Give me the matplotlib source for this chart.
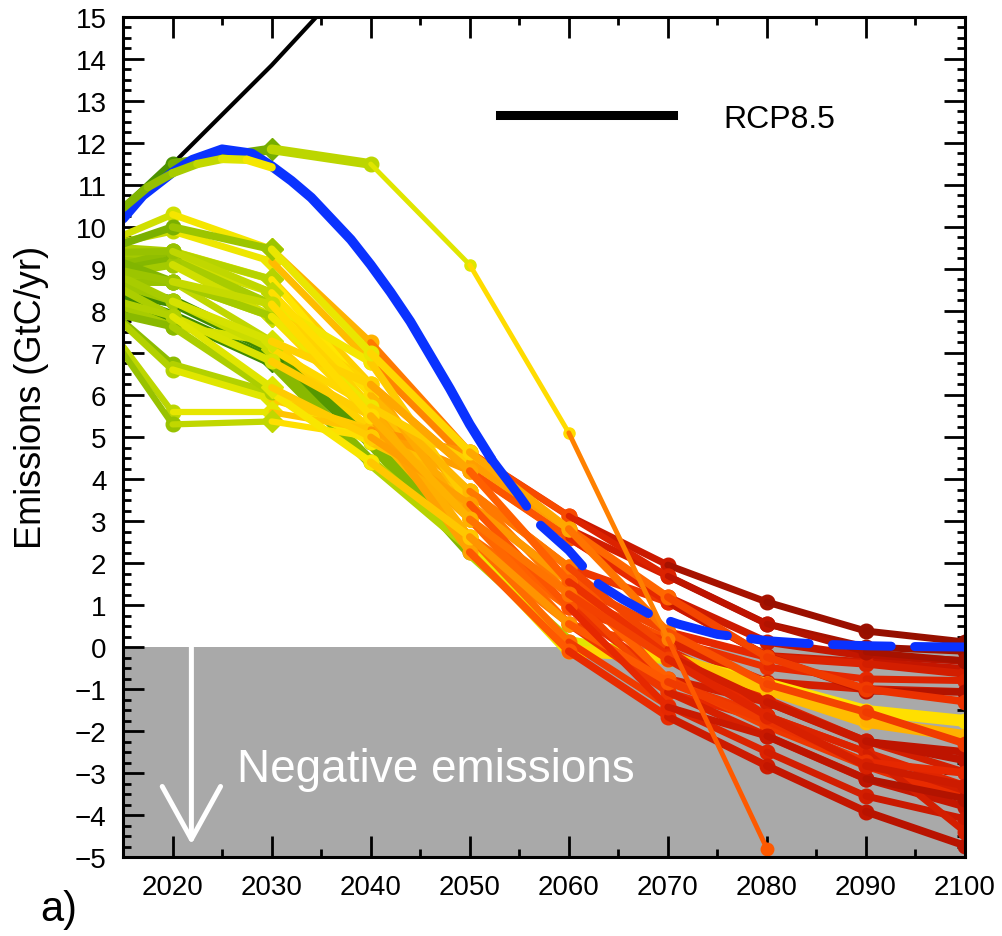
import numpy as np
import matplotlib
matplotlib.use('Agg')
import matplotlib.pyplot as plt
from matplotlib.colors import LinearSegmentedColormap
from matplotlib.lines import Line2D

plt.rcParams['font.family'] = ['Liberation Sans', 'DejaVu Sans']

#decades at which the scenario markers sit (2015 is the starting point on the axis)
years = [2015, 2020, 2030, 2040, 2050, 2060, 2070, 2080, 2090, 2100]

#emission pathways, GtC/yr, one row per scenario
pathways = [
    [9.80, 10.30, 9.47, 7.25, 4.64, 3.12, 1.95, 1.07, 0.38, 0.12],
    [9.65, 9.90, 9.18, 6.78, 4.40, 2.81, 1.69, 0.55, 0.00, -0.10],
    [9.50, 9.42, 8.75, 6.25, 4.19, 2.60, 1.19, 0.12, -0.21, -0.33],
    [9.30, 9.23, 8.44, 5.71, 3.71, 1.90, 1.07, -0.21, -0.36, -0.52],
    [9.20, 9.10, 8.16, 5.50, 3.40, 1.55, 0.36, -0.24, -0.40, -0.64],
    [9.10, 9.42, 8.75, 6.00, 3.04, 1.26, 0.19, -0.48, -0.76, -0.80],
    [8.85, 8.70, 7.87, 5.50, 2.62, 0.95, 0.12, -0.83, -1.00, -1.07],
    [8.70, 8.70, 7.28, 5.18, 2.40, 0.55, -0.05, -1.24, -2.24, -2.98],
    [8.45, 8.23, 7.09, 4.87, 2.26, 0.12, -0.29, -0.88, -1.52, -1.76],
    [8.30, 7.87, 6.80, 4.40, 2.40, -0.10, -0.21, -1.00, -1.78, -2.12],
    [8.10, 7.63, 7.28, 5.18, 3.04, 0.95, -0.76, -1.31, -2.26, -2.50],
    [7.75, 6.73, 6.06, 4.87, 3.71, 1.90, -0.83, -1.64, -2.50, -3.30],
    [7.70, 6.60, 5.90, 5.18, 4.19, 2.60, 1.07, -0.21, -1.05, -1.07],
    [7.16, 5.59, 5.59, 5.18, 4.64, 3.12, 1.69, 0.55, -0.12, -0.33],
    [7.00, 5.30, 5.37, 5.00, 3.71, 1.26, -1.07, -1.76, -2.74, -3.45],
    [9.00, 9.23, 8.16, 6.78, 3.40, 1.55, -0.76, -1.88, -2.83, -3.61],
    [8.90, 9.10, 7.87, 6.25, 3.04, 0.55, -1.07, -2.12, -3.14, -3.80],
    [8.60, 8.23, 7.09, 5.71, 2.62, 0.12, -1.40, -2.50, -3.55, -4.09],
    [8.50, 7.87, 6.80, 5.50, 2.26, -0.10, -1.66, -2.83, -3.92, -4.73],
    [9.40, 9.42, 8.44, 6.00, 3.71, 1.90, -0.05, -1.64, -2.50, -4.40],
    [9.15, 8.70, 7.87, 5.71, 4.40, 2.81, 1.19, -0.24, -1.00, -1.30],
    [8.80, 8.23, 7.28, 6.25, 4.19, 1.55, -0.21, -1.31, -2.24, -2.70],
    [7.90, 7.63, 6.06, 4.40, 2.62, 0.55, -0.83, -1.76, -2.74, -3.00],
    [8.20, 7.87, 6.18, 5.00, 3.40, 0.95, -1.43, -2.12, -3.14, -3.61],
    [9.60, 10.00, 9.47, 7.00, 4.64, 2.81, 0.36, -0.88, -1.55, -2.30],
    [8.95, 8.70, 8.16, 5.50, 3.04, 1.26, -0.29, -1.64, -2.83, -3.30],
]

#the one late, steep scenario (leaves the chart after 2080)
late_years = [2015, 2020, 2030, 2040, 2050, 2060, 2070, 2080]
late_path = [10.40, 11.50, 11.85, 11.50, 9.10, 5.10, 0.20, -4.80]

#RCP8.5 reference
rcp_years = [2015, 2020, 2030, 2040]
rcp_values = [10.30, 11.50, 13.85, 16.40]

#blue pathway, solid then dashed part
blue_years = [2015, 2017, 2020, 2022, 2025, 2028, 2030, 2032, 2034, 2036, 2038, 2040,
              2042, 2044, 2046, 2048, 2050, 2052.2]
blue_values = [10.20, 10.75, 11.30, 11.60, 11.85, 11.75, 11.45, 11.10, 10.70, 10.20, 9.70, 9.10,
               8.45, 7.75, 6.95, 6.15, 5.30, 4.47]
blue_dash_years = [2052.2, 2055, 2057, 2060, 2063, 2065.4, 2068, 2071, 2075, 2080, 2085, 2090, 2095, 2100]
blue_dash_values = [4.47, 3.60, 2.93, 2.30, 1.50, 1.14, 0.80, 0.55, 0.30, 0.15, 0.07, 0.03, 0.01, 0.00]

#thick green band hugging the blue curve up to 2030
band_years = [2015, 2017.5, 2020, 2022.5, 2025, 2027.5, 2030]
band_values = [10.45, 10.95, 11.28, 11.50, 11.62, 11.60, 11.42]

#style per scenario: colour shift, line width, marker at 2030
tone_shift = [0.12, 0.10, 0.05, 0.03, 0.0, -0.02, 0.02, 0.0, -0.42, -0.30, 0.04, -0.03,
              0.06, 0.08, 0.0, -0.05, 0.03, 0.02, 0.05, 0.0, -0.06, 0.04, -0.04, 0.06, -0.08, 0.01]
widths = [5, 5, 5.5, 5.5, 5.5, 5, 5.5, 5, 8.5, 8.5, 5.5, 5, 5, 4.5, 4.5, 5.5, 5.5, 5, 5.5, 5, 5.5, 5.5, 5.5, 5, 5.5, 5.5]
diamond = [1, 1, 1, 0, 1, 1, 1, 0, 1, 1, 0, 1, 1, 1, 1, 0, 1, 1, 0, 1, 0, 1, 0, 1, 1, 0]

cmap = LinearSegmentedColormap.from_list('pathway', [
    (0.00, '#3f8a00'), (0.12, '#76ae00'), (0.25, '#a8cc00'), (0.36, '#e0e600'),
    (0.45, '#ffe600'), (0.55, '#ffc400'), (0.65, '#ff9a00'), (0.75, '#ff5a00'),
    (0.85, '#e62800'), (0.93, '#c01400'), (1.00, '#961000')])

def segment_tone(y_mid, shift):
    #colour moves from green to dark red with time
    base = np.interp(y_mid, [2015, 2025, 2035, 2045, 2055, 2065, 2075, 2095],
                     [0.18, 0.30, 0.47, 0.58, 0.70, 0.79, 0.85, 0.89])
    return cmap(np.clip(base + shift, 0, 1))

def draw_path(ax, xs, ys, shift, lw, dmd, ms=10.5):
    for k in range(len(xs) - 1):
        c = segment_tone((xs[k] + xs[k + 1]) / 2, shift)
        ax.plot(xs[k:k + 2], ys[k:k + 2], color=c, lw=lw, solid_capstyle='round', zorder=3)
        m = 'D' if (dmd and xs[k + 1] == 2030) else 'o'
        ax.plot(xs[k + 1], ys[k + 1], marker=m, ms=ms if m == 'o' else ms + 1,
                color=c, mec=c, zorder=3)

fig = plt.figure(figsize=(10.02, 9.37), dpi=100)
ax = fig.add_axes([0.1228, 0.0843, 0.8403, 0.8965])

ax.axhspan(-5, 0, color='#a9a9a9', zorder=0, lw=0)

ax.plot(rcp_years, rcp_values, color='black', lw=3, zorder=2)

for i, row in enumerate(pathways):
    draw_path(ax, years, row, tone_shift[i], widths[i], diamond[i])

draw_path(ax, late_years[:4], late_path[:4], -0.18, 7, True)
draw_path(ax, late_years[3:6], late_path[3:6], -0.22, 3.5, False, ms=8)
draw_path(ax, late_years[5:], late_path[5:], -0.1, 3.5, False, ms=9)

ax.plot(blue_years, blue_values, color='#0a32ff', lw=7, solid_capstyle='round', zorder=4)
ax.plot(blue_dash_years, blue_dash_values, color='#0a32ff', lw=6.5, dashes=(6.5, 2.6),
        dash_capstyle='round', zorder=4)
for k in range(len(band_years) - 1):
    c = segment_tone(band_years[k] + 1, -0.04 + 0.02 * k)
    ax.plot(band_years[k:k + 2], band_values[k:k + 2], color=c, lw=6,
            solid_capstyle='round', zorder=5)

#negative emissions annotation
ax.annotate('', xy=(2021.9, -4.7), xytext=(2021.9, 0.0),
            arrowprops=dict(arrowstyle='->,head_length=1.9,head_width=1.05', color='white',
                            lw=3.6, mutation_scale=20, shrinkA=0, shrinkB=0), zorder=6)
ax.text(2026.5, -2.9, 'Negative emissions', color='white', fontsize=33,
        va='center', ha='left', zorder=6)

leg_handle = Line2D([], [], color='black', lw=6.5)
ax.legend([leg_handle], ['RCP8.5'], loc='upper left', bbox_to_anchor=(0.448, 0.897),
          frameon=False, fontsize=23, handlelength=5.4, handletextpad=1.6,
          borderpad=0, borderaxespad=0)

ax.set_xlim(2015, 2100)
ax.set_ylim(-5, 15)
ax.set_xticks(np.arange(2020, 2101, 10))
ax.set_xticks(np.arange(2025, 2100, 10), minor=True)
ax.set_yticks(np.arange(-5, 16, 1))
ax.set_yticks(np.arange(-5, 15.01, 0.25), minor=True)
ax.tick_params(which='both', direction='in', top=True, right=True, width=2, colors='black')
ax.tick_params(which='major', length=15, labelsize=20)
ax.tick_params(which='minor', length=6)
ax.tick_params(axis='x', which='major', pad=12)
ax.tick_params(axis='y', which='major', pad=12)
for s in ax.spines.values():
    s.set_linewidth(2.2)
    s.set_zorder(7)

fig.text(0.031, 0.576, 'Emissions (GtC/yr)', rotation=90, fontsize=26, va='center', ha='center')
fig.text(0.04, 0.008, 'a)', fontsize=30, va='bottom', ha='left')

plt.savefig('out.png', dpi=100)
